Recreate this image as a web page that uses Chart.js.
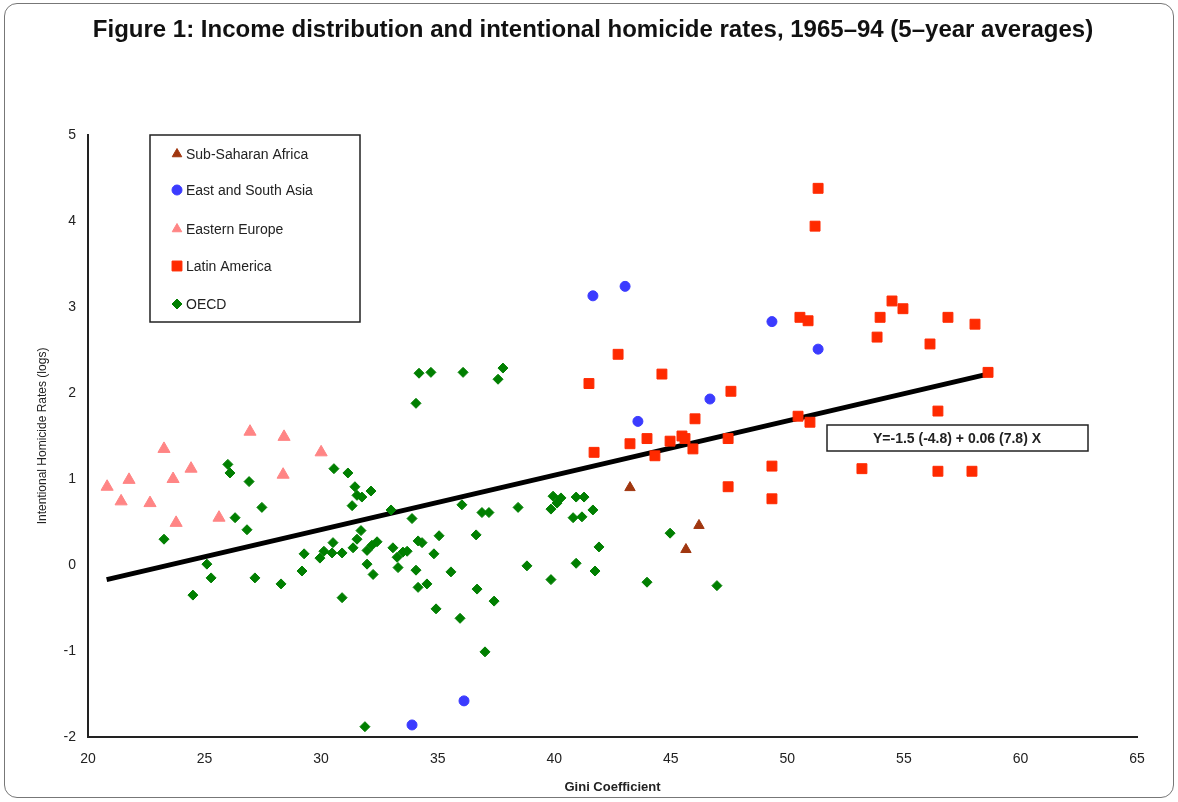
<!DOCTYPE html>
<html>
<head>
<meta charset="utf-8">
<script src="https://cdn.jsdelivr.net/npm/chart.js@4.4.0/dist/chart.umd.min.js"></script>
<style>
  html, body { margin: 0; padding: 0; background: #fff; }
  #wrap { position: relative; width: 1178px; height: 802px; }
  #frame { position: absolute; left: 4px; top: 3px; width: 1170px; height: 795px;
           border: 1.5px solid #777; border-radius: 13px; box-sizing: border-box; }
  #chartBox { position: absolute; left: 0; top: 0; width: 1178px; height: 802px; }
</style>
</head>
<body>
<div id="wrap">
  <div id="frame"></div>
  <div id="chartBox"><canvas id="myChart"></canvas></div>
</div>
<script>
// Gini coefficient (x) and log homicide rate (y)
const ssaGini = [43.25, 46.21, 45.65];
const ssaRate = [0.90, 0.46, 0.18];

const asiaGini = [41.66, 43.04, 49.34, 51.32, 46.68, 43.59, 36.13, 33.90];
const asiaRate = [3.13, 3.24, 2.83, 2.51, 1.93, 1.67, -1.58, -1.86];

const eeGini = [20.82, 21.42, 21.76, 22.66, 23.26, 23.65, 23.78, 24.42, 25.62, 26.95, 28.41, 28.37, 30.0];
const eeRate = [0.91, 0.74, 0.99, 0.72, 1.35, 1.0, 0.49, 1.12, 0.55, 1.55, 1.49, 1.05, 1.31];

const latGini = [42.74, 41.49, 44.62, 47.58, 46.04, 43.25, 43.98, 44.97, 45.48, 45.61, 45.95, 44.32,
  41.71, 47.46, 49.34, 47.46, 49.34, 51.32, 51.19, 50.54, 50.89, 54.49, 54.96, 53.98, 53.85,
  56.89, 58.05, 56.12, 58.61, 50.46, 50.97, 56.46, 53.2, 56.46, 57.92];
const latRate = [2.45, 2.11, 2.22, 2.02, 1.70, 1.41, 1.47, 1.44, 1.50, 1.47, 1.35, 1.27,
  1.31, 1.47, 1.15, 0.91, 0.77, 4.38, 3.94, 2.88, 2.84, 3.07, 2.98, 2.88, 2.65,
  2.88, 2.80, 2.57, 2.24, 1.73, 1.66, 1.79, 1.12, 1.09, 1.09];

const oecdGini = [26.0, 26.09, 26.91, 27.46, 26.31, 26.82, 23.26, 25.1, 25.28, 24.5, 27.16, 28.28,
  30.55, 31.15, 31.45, 31.54, 31.75, 32.14, 31.33, 31.71, 31.54, 31.37, 30.51, 30.12, 30.47,
  30.9, 29.95, 29.27, 29.18, 31.97, 32.18, 32.4, 31.97, 32.23, 30.9, 34.2, 34.71, 36.09, 37.8,
  37.59, 34.07, 33.0, 33.9, 36.04, 36.9, 37.2, 38.45, 39.95, 40.29, 40.12, 39.86, 40.94, 40.81,
  33.08, 33.26, 33.51, 33.69, 34.16, 34.33, 35.06, 34.84, 33.3, 34.07, 34.16, 34.54, 35.57,
  36.65, 36.69, 37.42, 34.93, 35.96, 38.83, 39.86, 40.94, 41.28, 41.66, 41.19, 44.97, 41.92,
  41.75, 43.98, 46.98, 37.03, 31.88];
const oecdRate = [1.17, 1.07, 0.97, 0.67, 0.55, 0.41, 0.30, 0.01, -0.15, -0.35, -0.15, -0.22,
  1.12, 1.07, 0.91, 0.81, 0.79, 0.86, 0.69, 0.40, 0.30, 0.20, 0.26, 0.16, 0.14,
  0.14, 0.08, 0.13, -0.07, 0.17, 0.23, 0.27, 0.01, -0.11, -0.38, 2.23, 2.24, 2.24, 2.29,
  2.16, 1.88, 0.64, 0.54, 0.70, 0.61, 0.61, 0.67, 0.80, 0.78, 0.72, 0.65, 0.79, 0.55,
  0.20, 0.09, 0.15, 0.16, 0.28, 0.26, 0.34, 0.13, -0.03, -0.06, -0.26, -0.22, -0.08,
  0.35, -0.28, -0.42, -0.51, -0.62, -0.01, -0.17, 0.02, 0.79, 0.64, 0.56, 0.37, 0.21,
  -0.07, -0.20, -0.24, -1.01, -1.88];

// fitted line end points
const fitGini = [20.8, 58.6];
const fitRate = [-0.17, 2.22];

const xTicks = [20, 25, 30, 35, 40, 45, 50, 55, 60, 65];
const yTicks = [-2, -1, 0, 1, 2, 3, 4, 5];

const titleText = 'Figure 1: Income distribution and intentional homicide rates, 1965–94 (5–year averages)';

function toPoints(xs, ys) {
  return xs.map((x, i) => ({ x: x, y: ys[i] }));
}

// title, legend box and equation box, placed like the original
const boxLegend = {
  id: 'boxLegend',
  afterDraw(chart) {
    const ctx = chart.ctx;
    ctx.save();
    ctx.fillStyle = '#111';
    ctx.font = 'bold 24px "Liberation Sans", Arial, sans-serif';
    ctx.textAlign = 'center';
    ctx.textBaseline = 'middle';
    ctx.fillText(titleText, 593, 30);

    ctx.textAlign = 'left';
    ctx.strokeStyle = '#222';
    ctx.lineWidth = 1.5;
    ctx.strokeRect(150, 135, 210, 187);
    const rows = [154, 190, 229, 266, 304];
    ctx.font = '14px "Liberation Sans", Arial, sans-serif';
    chart.data.datasets.slice(0, 5).forEach((ds, i) => {
      ctx.fillStyle = ds.backgroundColor;
      ctx.strokeStyle = ds.backgroundColor;
      ctx.lineWidth = 1;
      Chart.helpers.drawPoint(ctx, { pointStyle: ds.pointStyle, radius: ds.legendRadius, borderWidth: 1 }, 177, rows[i]);
      ctx.fillStyle = '#222';
      ctx.fillText(ds.label, 186, rows[i] + 1);
    });

    ctx.fillStyle = '#fff';
    ctx.fillRect(827, 425, 261, 26);
    ctx.strokeStyle = '#222';
    ctx.lineWidth = 1.5;
    ctx.strokeRect(827, 425, 261, 26);
    ctx.fillStyle = '#222';
    ctx.font = 'bold 14px "Liberation Sans", Arial, sans-serif';
    ctx.textAlign = 'center';
    ctx.fillText('Y=-1.5 (-4.8) + 0.06 (7.8) X', 957, 439);
    ctx.restore();
  }
};

const ctx = document.getElementById('myChart');
const myChart = new Chart(ctx, {
    type: 'scatter',
    data: {
        datasets: [{
            label: 'Sub-Saharan Africa',
            data: toPoints(ssaGini, ssaRate),
            pointStyle: 'triangle',
            backgroundColor: '#A0360F',
            borderColor: '#A0360F',
            borderWidth: 1,
            pointRadius: 6,
            legendRadius: 5.5
        }, {
            label: 'East and South Asia',
            data: toPoints(asiaGini, asiaRate),
            pointStyle: 'circle',
            backgroundColor: '#3B3BFF',
            borderColor: '#3B3BFF',
            borderWidth: 1,
            pointRadius: 5,
            legendRadius: 5
        }, {
            label: 'Eastern Europe',
            data: toPoints(eeGini, eeRate),
            pointStyle: 'triangle',
            backgroundColor: '#FF8585',
            borderColor: '#FF8585',
            borderWidth: 1,
            pointRadius: 7,
            legendRadius: 5.5
        }, {
            label: 'Latin America',
            data: toPoints(latGini, latRate),
            pointStyle: 'rect',
            backgroundColor: '#FF2A00',
            borderColor: '#FF2A00',
            borderWidth: 1,
            pointRadius: 7,
            legendRadius: 7
        }, {
            label: 'OECD',
            data: toPoints(oecdGini, oecdRate),
            pointStyle: 'rectRot',
            backgroundColor: '#007F00',
            borderColor: '#007F00',
            borderWidth: 1,
            pointRadius: 5,
            legendRadius: 5
        }, {
            label: 'fit',
            type: 'line',
            data: toPoints(fitGini, fitRate),
            borderColor: '#000',
            borderWidth: 5,
            pointRadius: 0,
            fill: false
        }]
    },
    options: {
        responsive: true,
        maintainAspectRatio: false,
        animation: false,
        layout: { padding: { left: 0, right: 41, top: 135, bottom: 0 } },
        plugins: {
            legend: { display: false },
            tooltip: { enabled: false },
            title: { display: false }
        },
        scales: {
            x: {
                type: 'linear',
                min: 20,
                max: 65,
                afterBuildTicks: (scale) => { scale.ticks = xTicks.map(v => ({ value: v })); },
                afterFit: (scale) => { scale.height = 65; },
                grid: { display: false, drawTicks: true, tickLength: 6, tickColor: '#222', tickWidth: 2 },
                border: { display: true, color: '#222', width: 2 },
                ticks: {
                    color: '#222',
                    padding: 8,
                    font: { family: '"Liberation Sans", Arial, sans-serif', size: 14 }
                },
                title: {
                    display: true,
                    text: 'Gini Coefficient',
                    color: '#222',
                    font: { family: '"Liberation Sans", Arial, sans-serif', size: 13, weight: 'bold' },
                    padding: { top: 0, bottom: 7 }
                }
            },
            y: {
                type: 'linear',
                min: -2,
                max: 5,
                afterBuildTicks: (scale) => { scale.ticks = yTicks.map(v => ({ value: v })); },
                afterFit: (scale) => { scale.width = 88; },
                grid: { display: false, drawTicks: true, tickLength: 6, tickColor: '#222', tickWidth: 2 },
                border: { display: true, color: '#222', width: 2 },
                ticks: {
                    color: '#222',
                    padding: 6,
                    font: { family: '"Liberation Sans", Arial, sans-serif', size: 14 }
                },
                title: {
                    display: true,
                    text: 'Intentional Homicide Rates (logs)',
                    color: '#222',
                    font: { family: '"Liberation Sans", Arial, sans-serif', size: 12 },
                    padding: { top: 35, bottom: 0 }
                }
            }
        }
    },
    plugins: [boxLegend]
});
</script>
</body>
</html>
